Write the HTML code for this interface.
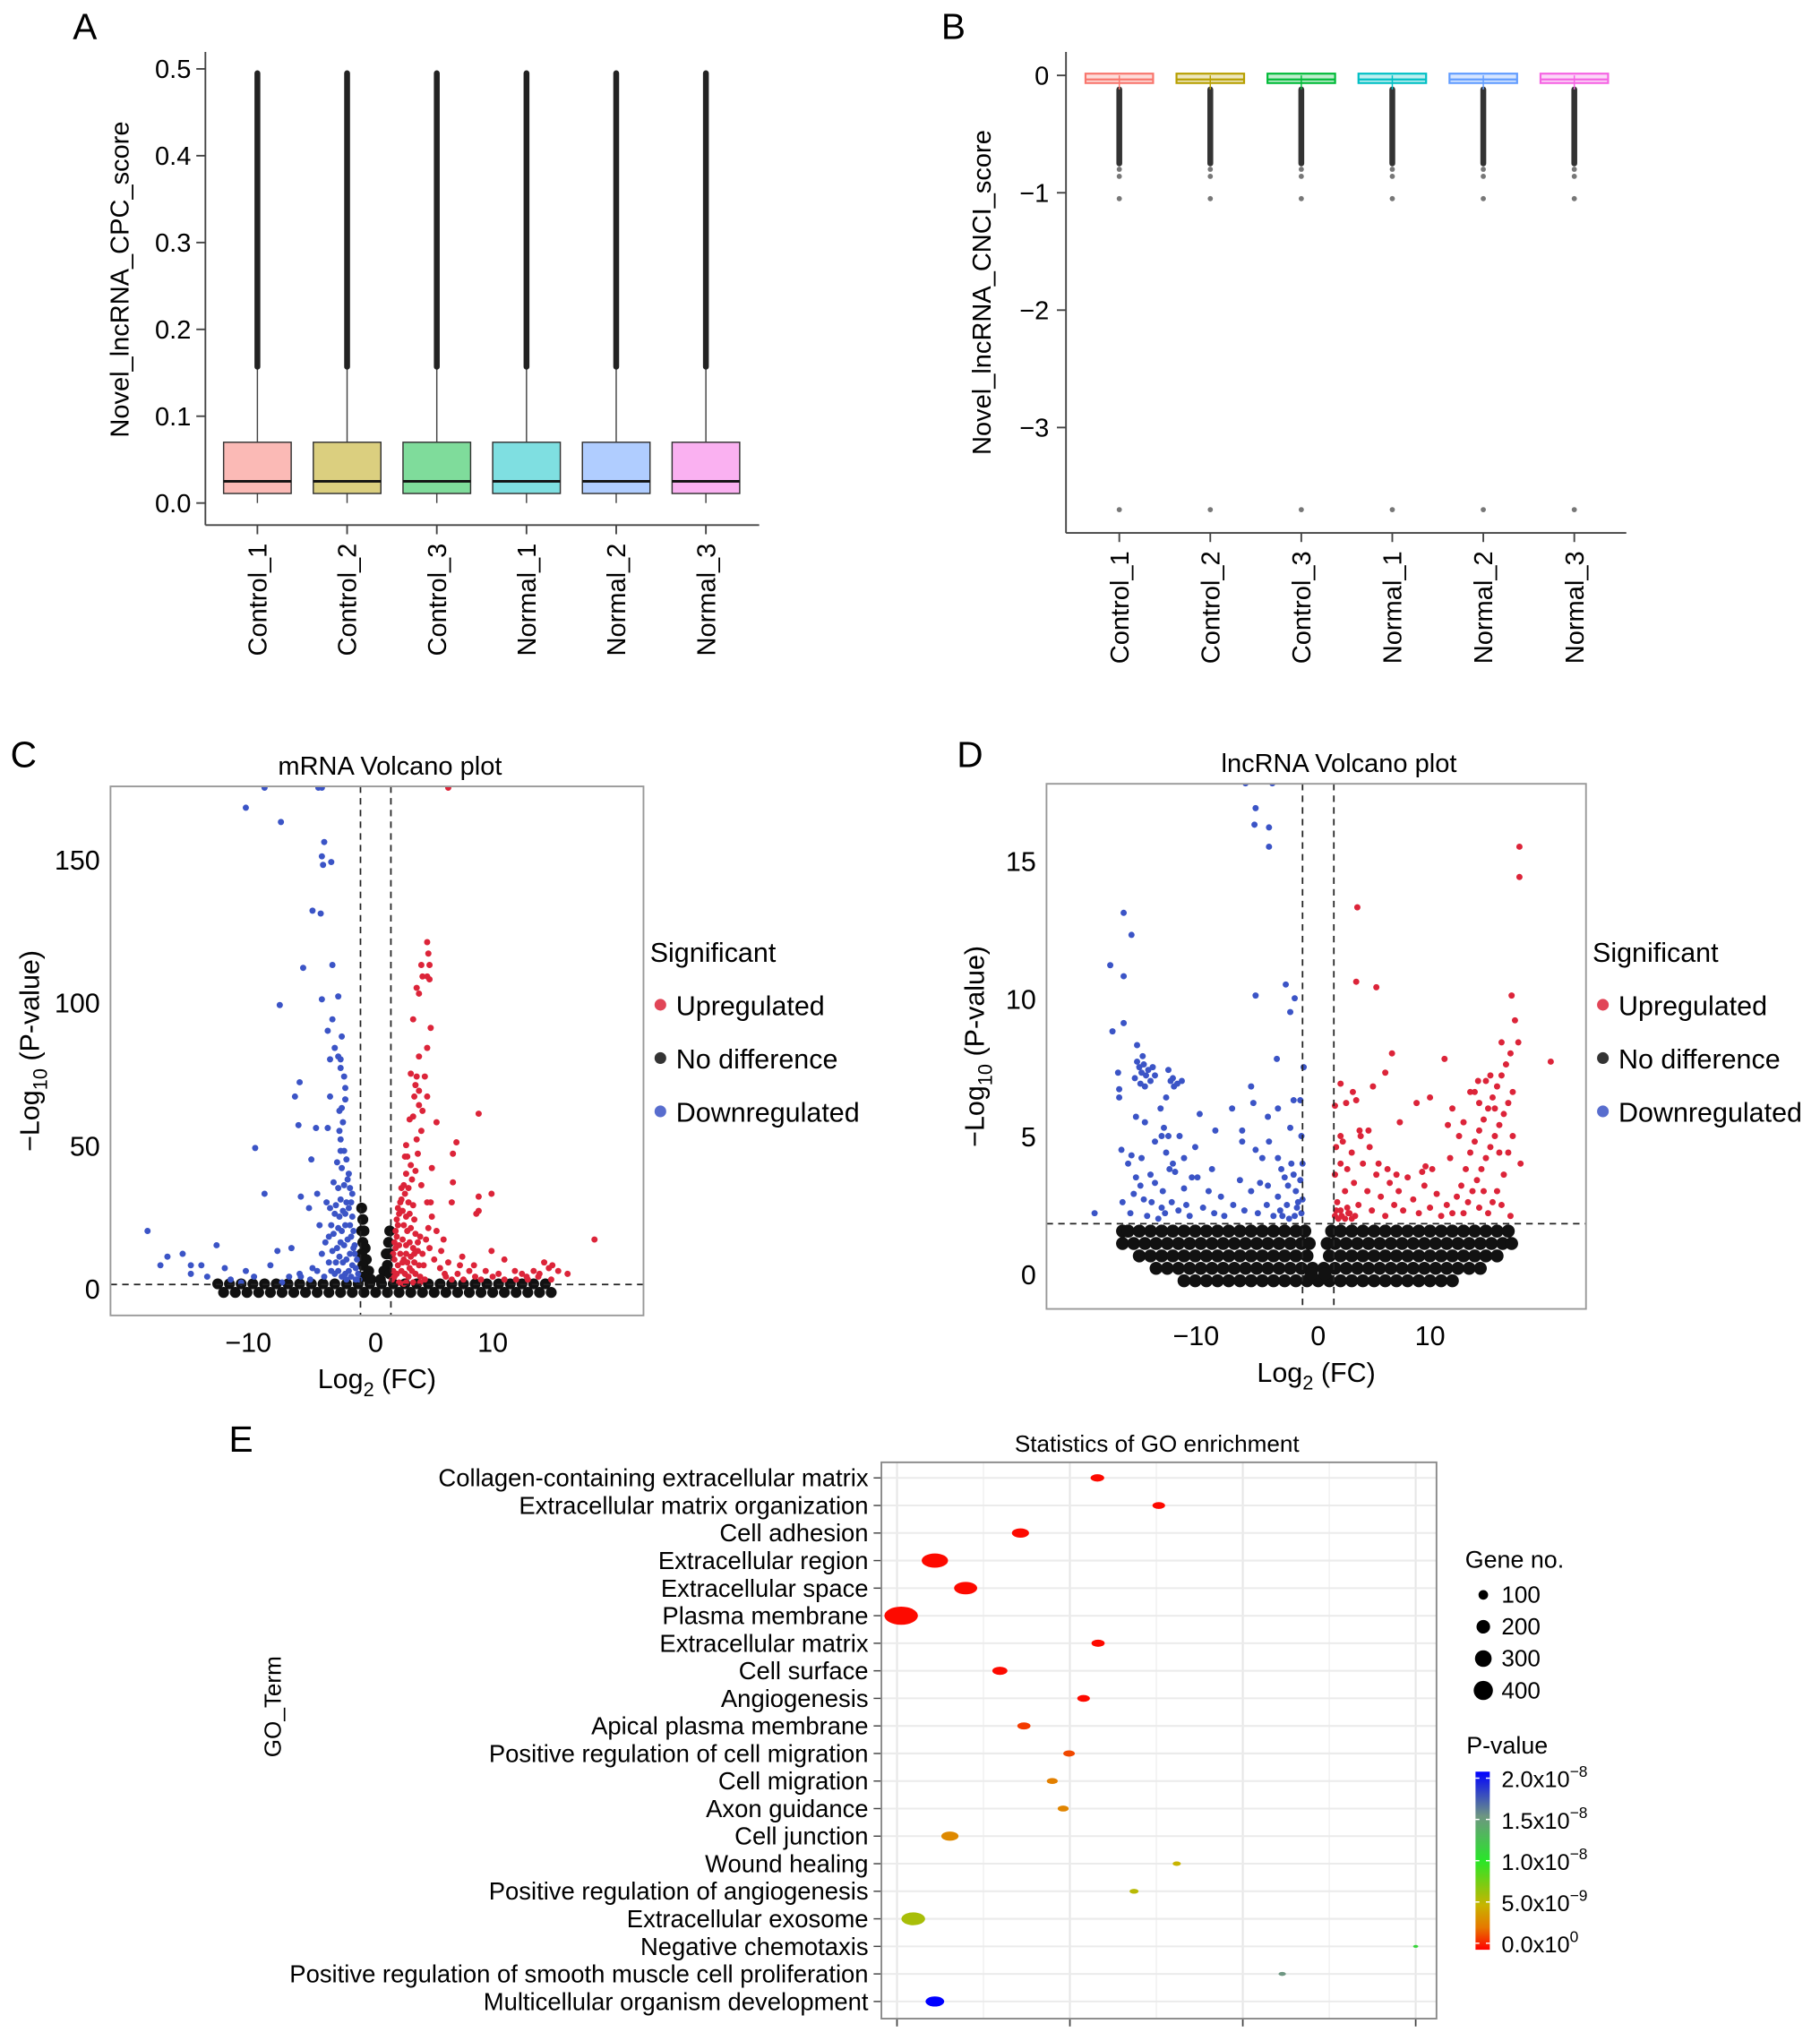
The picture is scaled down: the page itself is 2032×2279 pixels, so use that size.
<!DOCTYPE html>
<html><head><meta charset="utf-8"><style>
html,body{margin:0;padding:0;background:#fff}
svg{display:block;font-family:"Liberation Sans",Arial,sans-serif}
</style></head><body>
<svg id="fig" xmlns="http://www.w3.org/2000/svg" width="2032" height="2279" viewBox="0 0 1400 1570.2" preserveAspectRatio="none">
<rect x="0" y="0" width="1400" height="1571" fill="#fff"/>
<text x="56" y="30" font-size="28">A</text>
<text x="724" y="30" font-size="28">B</text>
<text x="8" y="590" font-size="28">C</text>
<text x="736" y="590" font-size="28">D</text>
<text x="176" y="1117" font-size="28">E</text>
<g id="A"></g>
<g id="B"></g>
<g id="C"></g>
<g id="D"></g>
<g id="E"></g>
</svg>
<script>
// ---------- data ----------
const samples = ["Control_1","Control_2","Control_3","Normal_1","Normal_2","Normal_3"];
const hues = ["#F8766D","#B79F00","#00BA38","#00BFC4","#619CFF","#F564E3"];
const cpcQ1 = [0.011,0.011,0.011,0.011,0.011,0.011];
const cpcMed = [0.025,0.025,0.025,0.025,0.025,0.025];
const cpcQ3 = [0.07,0.07,0.07,0.07,0.07,0.07];
const cpcLo = [0.0,0.0,0.0,0.0,0.0,0.0];
const cpcHi = [0.157,0.157,0.157,0.157,0.157,0.157];
const cpcOutMax = [0.495,0.495,0.495,0.495,0.495,0.495];
const cpcTicks = [0,0.1,0.2,0.3,0.4,0.5];
const cnciQ1 = [-0.065,-0.065,-0.065,-0.065,-0.065,-0.065];
const cnciMed = [-0.035,-0.035,-0.035,-0.035,-0.035,-0.035];
const cnciQ3 = [0.015,0.015,0.015,0.015,0.015,0.015];
const cnciLo = [-0.12,-0.12,-0.12,-0.12,-0.12,-0.12];
const cnciHi = [0.0,0.0,0.0,0.0,0.0,0.0];
const cnciOutMin = [-0.75,-0.75,-0.75,-0.75,-0.75,-0.75];
const cnciSparse = [-0.8,-0.86,-1.05,-3.7];
const cnciTicks = [0,-1,-2,-3];

const volcXTicks = [-10,0,10];
const volcCYTicks = [0,50,100,150];
const volcDYTicks = [0,5,10,15];

const upC = [4.4,121,4.5,117,3.9,113,4.6,113,4.0,109,4.4,109,4.6,108,3.5,105,3.7,103,3.2,94,4.7,91,4.4,84,3.7,81,3.0,75,3.5,74,4.2,74,3.4,71,3.7,69,4.4,67,3.3,67,8.8,61,3.7,64,5.2,58,2.9,59,6.9,51,2.6,50,6.6,47,2.5,46,4.8,42,6.6,37,9.9,33,8.8,32,6.5,30,8.8,27,8.6,26,4.7,30,18.7,17,9.9,13,11.0,10,7.4,11,8.4,8,11.9,6,14.4,9,15.1,8,15.6,6,16.4,5,12.9,4,13.9,4,5.9,5,6.2,175,
1.4,3,1.5,6,1.6,10,1.7,14,1.8,18,1.9,22,2.0,26,2.1,30,1.6,4,1.9,8,2.2,6,2.5,5,2.8,4,3.1,6,3.4,5,3.8,4,4.2,3,2.1,12,2.4,10,2.7,9,3.0,11,3.3,9,3.7,8,2.3,17,2.6,15,2.9,16,3.2,14,3.6,13,4.0,12,2.4,22,2.7,20,3.0,21,3.4,19,3.8,18,4.3,17,2.3,27,2.6,25,2.9,26,3.3,24,2.2,31,2.5,33,2.8,30,3.2,29,2.4,36,2.8,35,3.1,38,2.6,40,3.0,43,2.7,46,3.4,41,3.9,36,4.4,30,4.8,25,5.2,20,4.6,14,5.0,10,5.5,7,6.0,4,6.5,3,7.0,5,7.5,3,8.0,6,8.5,4,9.0,3,10.0,4,11.0,3,12.0,3,13.0,3,14.0,5,15.0,3,2.0,2,2.6,2,3.2,2,3.8,2,3.5,52,3.9,55,3.2,60,4.0,62,3.6,47,1.5,12,1.7,20,1.9,28,2.2,35,1.8,5,2.0,15,2.3,9,2.6,12,2.9,7,3.3,12,3.6,16,4.1,8,4.5,21,1.6,16,1.8,24,2.4,1.5,5.6,13,6.2,9,5.8,17,7.2,8,9.4,6,10.5,5,12.5,5,13.5,6,14.8,7];
const downC = [-11.1,168,-8.1,163,-4.4,156,-4.6,151,-4.5,148,-3.8,149,-5.4,132,-4.7,131,-6.2,112,-3.7,113,-4.6,101,-3.2,102,-8.2,99,-3.7,94,-4.1,90,-2.9,88,-3.5,84,-3.2,81,-3.9,80,-3.0,80,-6.5,72,-6.9,67,-3.9,67,-2.6,70,-2.6,66,-2.9,63,-6.6,57,-5.1,56,-4.1,56,-3.1,55,-10.3,49,-5.5,45,-3.0,48,-2.5,45,-9.5,33,-6.4,32,-5.0,33,-4.2,30,-5.7,28,-19.5,20,-17.8,11,-18.4,8,-16.5,12,-15.8,8,-14.9,8,-13.6,15,-12.9,7,-11.1,6,-8.4,13,-7.2,14,-9.0,8,-5.4,7,-7.4,4,-6.4,4,-10.4,4,-14.4,4,-15.8,5,-12.4,3,-9.5,175,-4.6,175,-4.9,175,
-1.5,5,-1.6,10,-1.8,15,-1.9,20,-2.0,25,-2.1,30,-2.2,35,-2.3,40,-1.4,3,-1.7,7,-2.0,8,-2.3,6,-2.6,5,-2.9,4,-3.2,6,-3.5,5,-2.2,12,-2.5,10,-2.8,9,-3.1,11,-3.4,9,-2.4,17,-2.7,15,-3.0,16,-3.3,14,-3.7,13,-2.6,22,-2.9,20,-3.2,21,-3.6,19,-4.0,18,-2.8,27,-3.1,25,-3.5,26,-2.5,30,-3.0,31,-3.4,29,-2.7,36,-3.2,35,-3.6,37,-2.4,38,-2.1,18,-1.8,12,-2.2,22,-2.6,26,-3.8,22,-4.3,16,-4.6,12,-4.0,9,-3.8,6,-4.4,4,-5.0,6,-5.6,3,-6.5,5,-2.9,42,-3.3,44,-2.7,48,-3.0,52,-2.8,58,-3.1,62,-2.7,74,-3.0,77,-1.7,3,-2.1,4,-2.5,3,-1.9,14,-2.3,28,-2.0,33,-3.9,28,-4.8,22,-8.0,2,-11.5,2];
const nodiffC = [-13,-1.5,-12,-1.5,-11,-1.5,-10,-1.5,-9,-1.5,-8,-1.5,-7,-1.5,-6,-1.5,-5,-1.5,-4,-1.5,-3,-1.5,-2,-1.5,-1,-1.5,0,-1.5,1,-1.5,2,-1.5,3,-1.5,4,-1.5,5,-1.5,6,-1.5,7,-1.5,8,-1.5,9,-1.5,10,-1.5,11,-1.5,12,-1.5,13,-1.5,14,-1.5,15,-1.5,
-13.5,1.5,-12.5,1.5,-11.5,1.5,-10.5,1.5,-9.5,1.5,-8.5,1.5,-7.5,1.5,-6.5,1.5,-5.5,1.5,-4.5,1.5,-3.5,1.5,-2.5,1.5,-1.5,1.5,-0.5,1.5,0.5,1.5,1.5,1.5,2.5,1.5,3.5,1.5,4.5,1.5,5.5,1.5,6.5,1.5,7.5,1.5,8.5,1.5,9.5,1.5,10.5,1.5,11.5,1.5,12.5,1.5,13.5,1.5,14.5,1.5,
-1.2,28,-1.1,24,-1.2,20,-1.0,20,-1.1,16,-0.9,14,-1.2,12,-0.8,10,-1.1,8,-0.6,6,-1.0,4,-0.4,3,1.2,20,1.1,16,1.2,12,0.9,12,1.0,8,0.7,6,1.2,5,0.4,3];

const upD = [18.0,15.5,18.0,14.4,3.5,13.3,3.4,10.6,5.2,10.4,17.3,10.1,17.6,9.2,20.8,7.7,6.6,8.0,11.3,7.8,16.4,8.4,17.9,8.4,6.0,7.3,4.9,6.8,2.0,6.9,3.1,6.6,3.4,6.3,2.5,6.2,1.5,6.1,10.0,6.4,8.8,6.2,7.3,5.5,11.6,5.4,3.7,5.2,4.5,5.2,2.0,5.0,18.1,4.0,9.6,3.9,
13.0,2.2,13.4,2.6,13.8,3.0,14.2,3.4,14.6,3.8,15.0,4.2,15.4,4.6,15.8,5.0,16.2,5.4,16.6,5.8,17.0,6.2,17.4,6.6,13.2,3.8,13.6,4.4,14.0,4.8,14.4,5.2,14.8,5.6,15.2,6.0,15.6,6.4,16.0,6.8,16.4,7.2,16.8,7.6,17.2,8.0,14.0,6.6,14.4,6.2,15.0,7.0,15.4,7.2,15.8,6.0,16.2,4.4,16.6,3.6,16.0,3.0,15.6,2.6,15.2,2.2,14.8,3.0,14.4,2.4,12.4,2.8,12.0,2.2,12.8,3.2,11.5,2.5,11.0,2.1,10.6,2.9,10.0,2.4,9.5,3.2,9.0,2.2,8.5,2.7,8.0,3.5,7.6,2.3,7.2,3.0,6.8,2.5,6.4,3.3,6.0,2.1,5.6,2.8,5.2,3.6,4.8,2.3,4.4,3.0,4.0,4.0,3.6,2.5,3.2,3.3,2.8,2.2,2.4,3.0,2.0,4.0,1.7,2.6,1.5,3.6,1.6,4.6,2.2,4.8,2.6,3.8,3.0,4.4,3.8,5.0,4.6,4.6,5.4,4.0,6.2,3.8,7.0,3.6,1.5,2.1,1.8,2.0,2.1,2.1,2.4,2.0,2.7,2.2,3.0,2.0,3.3,2.1,2.0,2.3,2.6,2.4,1.6,2.3,17.4,5.0,17.0,4.4,16.4,2.5,17.2,2.1,13.6,6.6,12.6,5.0,11.8,4.2,10.2,3.8,9.3,3.7,12.0,6.0,13.0,5.5,14.3,7.0];
const downD = [-5.6,16.9,-5.7,16.3,-4.4,16.2,-4.4,15.5,-17.4,13.1,-16.7,12.3,-18.6,11.2,-17.4,10.8,-5.6,10.1,-2.9,10.5,-2.1,10.0,-2.5,9.5,-18.4,8.8,-17.4,9.1,-16.2,8.3,-3.7,7.8,-1.3,7.5,-17.9,7.3,-20.0,2.2,-6.5,17.8,-4.1,17.8,
-16.2,7.7,-16.0,7.5,-15.8,7.3,-15.6,7.6,-15.4,7.2,-15.2,7.4,-15.0,7.0,-14.8,7.5,-16.4,7.1,-15.9,6.9,-15.5,6.8,-14.6,7.2,-15.7,7.9,-13.0,7.1,-12.6,6.9,-12.2,7.0,-13.4,7.4,-12.9,6.8,-13.2,7.0,-17.8,6.7,-17.8,6.4,
-16.3,5.7,-15.5,5.5,-13.8,5.3,-14.1,6.0,-13.4,5.0,-16.7,4.3,-17.6,4.5,-17.0,4.0,-15.8,4.2,-14.6,4.8,-13.6,4.4,-13.3,3.8,-16.3,3.5,-15.9,3.2,-15.0,3.6,-14.6,3.3,-13.9,3.0,-12.8,3.7,-12.0,3.1,-16.5,2.9,-15.6,2.7,-14.9,2.6,-14.0,2.4,-13.1,2.6,-12.5,2.3,-17.5,2.6,-16.8,2.2,-15.3,2.1,-14.3,2.0,-13.7,2.2,-11.8,2.5,-11.5,2.1,-10.8,3.5,-10.3,2.4,-9.8,3.0,-9.3,2.2,-8.7,2.8,-8.4,2.1,-7.6,2.5,-7.0,3.4,-6.6,2.3,-6.0,3.0,-5.4,2.2,-5.2,3.3,-6.0,6.8,-5.8,6.2,-7.7,6.0,-6.8,5.2,-6.8,4.8,-5.6,4.5,-5.0,4.2,-4.5,5.7,-4.4,4.8,-3.6,4.2,-3.3,3.8,-3.0,3.5,-2.7,3.2,-2.4,4.0,-2.2,3.6,-2.0,3.0,-1.8,2.6,-1.6,3.4,-1.5,2.2,-2.8,2.5,-3.4,2.3,-4.0,2.1,-4.6,2.5,-2.5,5.3,-2.2,6.3,-1.6,6.3,-1.5,5.0,-3.6,6.0,-4.5,3.2,-1.4,4.0,-2.1,2.1,-1.9,2.4,-2.6,2.0,-3.2,2.1,-3.6,2.8,-1.4,2.7,-13.0,4.0,-12.4,5.0,-13.6,6.4,-14.0,5.0,-12.0,4.2,-11.3,3.5,-11.0,4.6,-10.6,5.8,-9.5,3.8,-9.2,5.2];
const nodiffD = [-12,-0.25,-11,-0.25,-10,-0.25,-9,-0.25,-8,-0.25,-7,-0.25,-6,-0.25,-5,-0.25,-4,-0.25,-3,-0.25,-2,-0.25,-1,-0.25,0,-0.25,1,-0.25,2,-0.25,3,-0.25,4,-0.25,5,-0.25,6,-0.25,7,-0.25,8,-0.25,9,-0.25,10,-0.25,11,-0.25,12,-0.25,
-14.5,0.2,-13.5,0.2,-12.5,0.2,-11.5,0.2,-10.5,0.2,-9.5,0.2,-8.5,0.2,-7.5,0.2,-6.5,0.2,-5.5,0.2,-4.5,0.2,-3.5,0.2,-2.5,0.2,-1.5,0.2,-0.5,0.2,0.5,0.2,1.5,0.2,2.5,0.2,3.5,0.2,4.5,0.2,5.5,0.2,6.5,0.2,7.5,0.2,8.5,0.2,9.5,0.2,10.5,0.2,11.5,0.2,12.5,0.2,13.5,0.2,14.5,0.2,
-16,0.65,-15,0.65,-14,0.65,-13,0.65,-12,0.65,-11,0.65,-10,0.65,-9,0.65,-8,0.65,-7,0.65,-6,0.65,-5,0.65,-4,0.65,-3,0.65,-2,0.65,-1,0.65,1,0.65,2,0.65,3,0.65,4,0.65,5,0.65,6,0.65,7,0.65,8,0.65,9,0.65,10,0.65,11,0.65,12,0.65,13,0.65,14,0.65,15,0.65,16,0.65,
-17.5,1.1,-16.5,1.1,-15.5,1.1,-14.5,1.1,-13.5,1.1,-12.5,1.1,-11.5,1.1,-10.5,1.1,-9.5,1.1,-8.5,1.1,-7.5,1.1,-6.5,1.1,-5.5,1.1,-4.5,1.1,-3.5,1.1,-2.5,1.1,-1.5,1.1,-0.8,1.1,0.8,1.1,1.5,1.1,2.5,1.1,3.5,1.1,4.5,1.1,5.5,1.1,6.5,1.1,7.5,1.1,8.5,1.1,9.5,1.1,10.5,1.1,11.5,1.1,12.5,1.1,13.5,1.1,14.5,1.1,15.5,1.1,16.5,1.1,17.3,1.1,
-17.5,1.55,-17,1.55,-16,1.55,-15,1.55,-14,1.55,-13,1.55,-12,1.55,-11,1.55,-10,1.55,-9,1.55,-8,1.55,-7,1.55,-6,1.55,-5,1.55,-4,1.55,-3,1.55,-2,1.55,-1.2,1.55,1.2,1.55,2,1.55,3,1.55,4,1.55,5,1.55,6,1.55,7,1.55,8,1.55,9,1.55,10,1.55,11,1.55,12,1.55,13,1.55,14,1.55,15,1.55,16,1.55,17,1.55,
-0.6,0.0,0.6,0.0];

const goTerms = ["Collagen-containing extracellular matrix","Extracellular matrix organization","Cell adhesion","Extracellular region","Extracellular space","Plasma membrane","Extracellular matrix","Cell surface","Angiogenesis","Apical plasma membrane","Positive regulation of cell migration","Cell migration","Axon guidance","Cell junction","Wound healing","Positive regulation of angiogenesis","Extracellular exosome","Negative chemotaxis","Positive regulation of smooth muscle cell proliferation","Multicellular organism development"];
const goRich = [1.159,1.514,0.714,0.219,0.397,0.024,1.163,0.595,1.079,0.734,0.995,0.898,0.961,0.306,1.618,1.371,0.094,3.0,2.228,0.219];
const goGenes = [70,60,110,260,200,420,65,85,60,65,50,45,45,110,25,30,210,10,20,130];
const goPval = [0.2e-9,0.2e-9,0.2e-9,0.2e-9,0.2e-9,0.2e-9,0.2e-9,0.2e-9,0.2e-9,1.2e-9,1.5e-9,2.8e-9,3.0e-9,3.2e-9,5.0e-9,5.5e-9,6.0e-9,11e-9,15e-9,20e-9];
const geneLegend = [100,200,300,400];
const pLegendMant = ["0.0","5.0","1.0","1.5","2.0"];
const pLegendExp = ["0","−9","−8","−8","−8"];
const pLegendVal = [0,5e-9,1e-8,1.5e-8,2e-8];

// ---------- helpers ----------
const NS = "http://www.w3.org/2000/svg";
function el(tag, attrs, parent){const e=document.createElementNS(NS,tag);for(const k in attrs)e.setAttribute(k,attrs[k]);parent.appendChild(e);return e;}
function txt(s, attrs, parent){const e=el("text",attrs,parent);e.textContent=s;return e;}

// ---------- Panel A ----------
(function(){
  const g=document.getElementById("A");
  const y=v=>387-v*668, x=i=>198+i*69;
  let a=el("line",{x1:158,y1:40,x2:158,y2:404,stroke:"#444","stroke-width":1.3},g);
  
  
  a=el("line",{x1:158,y1:404,x2:584,y2:404,stroke:"#444","stroke-width":1.3},g);
  
  
  cpcTicks.forEach(t=>{
    el("line",{x1:151,x2:158,y1:y(t),y2:y(t),stroke:"#444","stroke-width":1.3},g);
    const l=txt(t.toFixed(1),{x:147,y:y(t)+7,"font-size":20,"text-anchor":"end"},g);
    
    
  });
  samples.forEach((s,i)=>{
    const cx=x(i);
    el("line",{x1:cx,x2:cx,y1:404,y2:411,stroke:"#444","stroke-width":1.3},g);
    el("line",{x1:cx,x2:cx,y1:y(cpcLo[i]),y2:y(cpcQ1[i]),stroke:"#444","stroke-width":1},g);
    el("line",{x1:cx,x2:cx,y1:y(cpcQ3[i]),y2:y(cpcHi[i]),stroke:"#444","stroke-width":1},g);
    const o=el("line",{x1:cx,x2:cx,y1:y(cpcHi[i]),y2:y(cpcOutMax[i]),stroke:"#222","stroke-width":4.5,"stroke-linecap":"round"},g);
    
    
    const b=el("rect",{x:cx-26,y:y(cpcQ3[i]),width:52,height:y(cpcQ1[i])-y(cpcQ3[i]),fill:hues[i],"fill-opacity":0.5,stroke:"#333","stroke-width":1},g);
    
    
    el("line",{x1:cx-26,x2:cx+26,y1:y(cpcMed[i]),y2:y(cpcMed[i]),stroke:"#111","stroke-width":2},g);
    const l=txt(s,{x:0,y:0,"font-size":20,"text-anchor":"end",transform:`translate(${cx+7},418) rotate(-90)`},g);
    
    
  });
  const t=txt("Novel_lncRNA_CPC_score",{x:0,y:0,"font-size":20,"text-anchor":"middle",transform:"translate(99,215) rotate(-90)"},g);
  
  
})();

// ---------- Panel B ----------
(function(){
  const g=document.getElementById("B");
  const y=v=>58-v*90.3, x=i=>861+i*70;
  let a=el("line",{x1:820,y1:40,x2:820,y2:410,stroke:"#444","stroke-width":1.3},g);
  
  
  a=el("line",{x1:820,y1:410,x2:1251,y2:410,stroke:"#444","stroke-width":1.3},g);
  
  
  cnciTicks.forEach(t=>{
    el("line",{x1:813,x2:820,y1:y(t),y2:y(t),stroke:"#444","stroke-width":1.3},g);
    const l=txt(t===0?"0":"−"+(-t),{x:807,y:y(t)+7,"font-size":20,"text-anchor":"end"},g);
    
    
  });
  samples.forEach((s,i)=>{
    const cx=x(i);
    el("line",{x1:cx,x2:cx,y1:410,y2:417,stroke:"#444","stroke-width":1.3},g);
    const o=el("line",{x1:cx,x2:cx,y1:y(cnciLo[i]),y2:y(cnciOutMin[i]),stroke:"#333","stroke-width":4.5,"stroke-linecap":"round"},g);
    
    
    el("line",{x1:cx,x2:cx,y1:y(cnciHi[i]),y2:y(cnciLo[i]),stroke:hues[i],"stroke-width":1},g);
    cnciSparse.forEach(v=>{
      const p=el("circle",{cx:cx,cy:y(v),r:2,fill:"#777"},g);
      
      
    });
    const b=el("rect",{x:cx-26,y:y(cnciQ3[i]),width:52,height:y(cnciQ1[i])-y(cnciQ3[i]),fill:hues[i],"fill-opacity":0.25,stroke:hues[i],"stroke-width":1.5},g);
    
    
    el("line",{x1:cx-26,x2:cx+26,y1:y(cnciMed[i]),y2:y(cnciMed[i]),stroke:hues[i],"stroke-width":1.5},g);
    const l=txt(s,{x:0,y:0,"font-size":20,"text-anchor":"end",transform:`translate(${cx+7},424) rotate(-90)`},g);
    
    
  });
  const t=txt("Novel_lncRNA_CNCI_score",{x:0,y:0,"font-size":20,"text-anchor":"middle",transform:"translate(762,225) rotate(-90)"},g);
  
  
})();

// ---------- Volcano ----------
function volcano(g, cfg){
  const X=v=>cfg.x0+v*cfg.xs, Y=v=>cfg.y0-v*cfg.ys;
  const cid="clip"+cfg.id;
  const defs=el("defs",{},g);
  const cp=el("clipPath",{id:cid},defs);
  el("rect",{x:cfg.L,y:cfg.T,width:cfg.R-cfg.L,height:cfg.B-cfg.T},cp);
  const ttl=txt(cfg.title,{x:cfg.tx,y:cfg.T-9,"font-size":20,"text-anchor":"middle"},g);
  
  
  const pts=el("g",{"clip-path":`url(#${cid})`},g);
  for(let i=0;i<cfg.nd.length;i+=2){
    const p=el("circle",{cx:X(cfg.nd[i]),cy:Y(cfg.nd[i+1]),r:cfg.rb,fill:"#111"},pts);
    
    
  }
  for(let i=0;i<cfg.dn.length;i+=2){
    const p=el("circle",{cx:X(cfg.dn[i]),cy:Y(cfg.dn[i+1]),r:2.4,fill:"#3b54c6"},pts);
    
    
  }
  for(let i=0;i<cfg.up.length;i+=2){
    const p=el("circle",{cx:X(cfg.up[i]),cy:Y(cfg.up[i+1]),r:2.4,fill:"#dc2439"},pts);
    
    
  }
  [-cfg.fc,cfg.fc].forEach(v=>{
    const d=el("line",{x1:X(v),x2:X(v),y1:cfg.T,y2:cfg.B,stroke:"#222","stroke-width":1.2,"stroke-dasharray":"5,4"},g);
    
    
  });
  const h=el("line",{x1:cfg.L,x2:cfg.R,y1:Y(cfg.pt),y2:Y(cfg.pt),stroke:"#222","stroke-width":1.2,"stroke-dasharray":"5,4"},g);
  
  
  const f=el("rect",{x:cfg.L,y:cfg.T,width:cfg.R-cfg.L,height:cfg.B-cfg.T,fill:"none",stroke:"#999","stroke-width":1.3},g);
  
  
  cfg.yt.forEach(t=>{
    const l=txt(String(t),{x:cfg.L-8,y:Y(t)+8,"font-size":21,"text-anchor":"end"},g);
    
    
  });
  volcXTicks.forEach(t=>{
    const l=txt(t<0?"−"+(-t):String(t),{x:X(t)+(t<0?-8:0),y:cfg.B+28,"font-size":21,"text-anchor":"middle"},g);
    
    
  });
  const xt=el("text",{x:(cfg.L+cfg.R)/2,y:cfg.B+56,"font-size":21,"text-anchor":"middle"},g);
  xt.innerHTML='Log<tspan font-size="15" dy="6">2</tspan><tspan dy="-6"> (FC)</tspan>';
  
  
  const yt=el("text",{x:0,y:0,"font-size":21,"text-anchor":"middle",transform:`translate(${cfg.yx},${(cfg.T+cfg.B)/2}) rotate(-90)`},g);
  yt.innerHTML='−Log<tspan font-size="15" dy="6">10</tspan><tspan dy="-6"> (P-value)</tspan>';
  
  
  const lg=el("g",{},g);
  
  
  txt("Significant",{x:cfg.lx,y:cfg.ly,"font-size":21},lg);
  [["Upregulated","#dc2439"],["No difference","#111"],["Downregulated","#3b54c6"]].forEach((e,i)=>{
    const yy=cfg.ly+cfg.lsp*(i+1);
    const c=el("circle",{cx:cfg.lx+8,cy:yy-8,r:4.5,fill:e[1],"fill-opacity":0.85},lg);
    
    
    const l=txt(e[0],{x:cfg.lx+20,y:yy,"font-size":21},lg);
    
    
  });
}
volcano(document.getElementById("C"),{id:"C",L:85,R:495,T:605,B:1012,x0:289,xs:9.0,y0:991,ys:2.2,fc:1.3,pt:1.3,up:upC,dn:downC,nd:nodiffC,rb:4.2,yt:volcCYTicks,title:"mRNA Volcano plot",tx:300,yx:30,lx:500,ly:740,lsp:41});
volcano(document.getElementById("D"),{id:"D",L:805,R:1220,T:603,B:1007,x0:1014,xs:8.6,y0:980,ys:21.2,fc:1.4,pt:1.82,up:upD,dn:downD,nd:nodiffD,rb:5,yt:volcDYTicks,title:"lncRNA Volcano plot",tx:1030,yx:757,lx:1225,ly:740,lsp:41});

// ---------- Panel E ----------
(function(){
  const g=document.getElementById("E");
  const L=678,R=1105,T=1125,B=1553;
  const X=v=>690+v*133, Y=i=>1137+i*21.2;
  const ttl=txt("Statistics of GO enrichment",{x:890,y:1117,"font-size":18,"text-anchor":"middle"},g);
  
  
  for(let k=0;k<=3;k++){
    el("line",{x1:X(k),x2:X(k),y1:T,y2:B,stroke:"#e6e6e6","stroke-width":1.4},g);
    if(k<3) el("line",{x1:X(k+0.5),x2:X(k+0.5),y1:T,y2:B,stroke:"#f0f0f0","stroke-width":1},g);
    el("line",{x1:X(k),x2:X(k),y1:B,y2:B+6,stroke:"#444","stroke-width":1.2},g);
  }
  goTerms.forEach((t,i)=>{
    el("line",{x1:L,x2:R,y1:Y(i),y2:Y(i),stroke:"#ebebeb","stroke-width":1.4},g);
    el("line",{x1:L-6,x2:L,y1:Y(i),y2:Y(i),stroke:"#444","stroke-width":1},g);
    const l=txt(t,{x:L-10,y:Y(i)+6.5,"font-size":18.9,"text-anchor":"end"},g);
    
    
  });
  const f=el("rect",{x:L,y:T,width:R-L,height:B-T,fill:"none",stroke:"#888","stroke-width":1.3},g);
  
  
  const stops=[[0,[255,0,0]],[2.5e-9,[230,120,0]],[5e-9,[200,180,0]],[1e-8,[40,230,40]],[1.5e-8,[110,150,130]],[2e-8,[0,0,255]]];
  function col(p){
    for(let k=1;k<stops.length;k++){ if(p<=stops[k][0]){const a=stops[k-1],b=stops[k],t=(p-a[0])/(b[0]-a[0]);
      return "rgb("+a[1].map((c,j)=>Math.round(c+(b[1][j]-c)*t)).join(",")+")";}}
    return "rgb(0,0,255)";
  }
  goTerms.forEach((t,i)=>{
    const ry=Math.sqrt(goGenes[i])*0.34;
    const e=el("ellipse",{cx:X(goRich[i]),cy:Y(i),rx:ry*1.85,ry:ry,fill:col(goPval[i])},g);
    
    
  });
  const yt=txt("GO_Term",{x:0,y:0,"font-size":18,"text-anchor":"middle",transform:"translate(216,1313) rotate(-90)"},g);
  
  
  const sl=el("g",{},g);
  
  
  txt("Gene no.",{x:1127,y:1206,"font-size":18.5},sl);
  geneLegend.forEach((n,i)=>{
    const yy=1227+i*24.5;
    const c=el("circle",{cx:1141,cy:yy,r:Math.sqrt(n)*0.37,fill:"#000"},sl);
    
    
    const l=txt(String(n),{x:1155,y:yy+6,"font-size":18},sl);
    
    
  });
  const cl=el("g",{},g);
  
  
  txt("P-value",{x:1128,y:1349,"font-size":18.5},cl);
  const defs=el("defs",{},cl);
  const lgr=el("linearGradient",{id:"pgrad",x1:0,y1:1,x2:0,y2:0},defs);
  stops.forEach(s=>el("stop",{offset:(s[0]/2e-8),"stop-color":"rgb("+s[1].join(",")+")"},lgr));
  const cbT=1363,cbB=1500,py=v=>cbB-5-(v/2e-8)*(cbB-cbT-10);
  const cb=el("rect",{x:1135,y:cbT,width:11,height:cbB-cbT,fill:"url(#pgrad)"},cl);
  
  
  pLegendVal.forEach((v,i)=>{
    el("line",{x1:1135,x2:1138,y1:py(v),y2:py(v),stroke:"#fff","stroke-width":1},cl);
    el("line",{x1:1143,x2:1146,y1:py(v),y2:py(v),stroke:"#fff","stroke-width":1},cl);
    const l=el("text",{x:1155,y:py(v)+7,"font-size":17.5},cl);
    l.innerHTML=pLegendMant[i]+'x10<tspan font-size="12" dy="-8">'+pLegendExp[i]+'</tspan>';
    
    
  });
})();
</script>
</body></html>
